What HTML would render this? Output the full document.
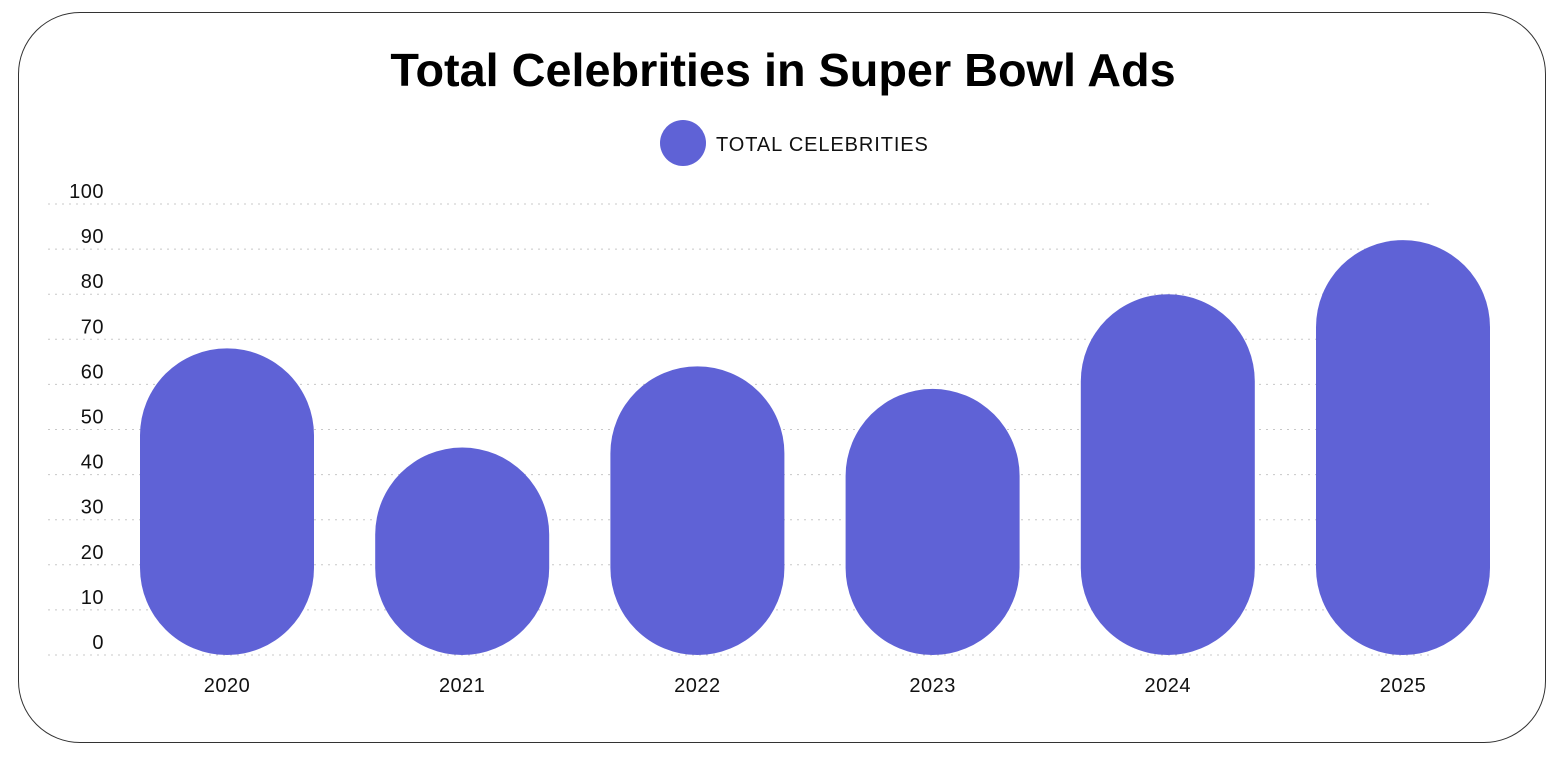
<!DOCTYPE html>
<html><head><meta charset="utf-8">
<style>
html,body{margin:0;padding:0;background:#fff;}
body{width:1560px;height:757px;overflow:hidden;position:relative;font-family:"Liberation Sans",Arial,sans-serif;}
.card{position:absolute;left:18px;top:12px;width:1528px;height:731px;border:1px solid #333;border-radius:62px;box-sizing:border-box;}
</style></head>
<body>
<div class="card"></div>
<svg id="chart" width="1560" height="757" style="position:absolute;left:0;top:0">
<text x="783" y="86" text-anchor="middle" font-family="Liberation Sans, Arial, sans-serif" font-weight="bold" font-size="46.8" fill="#000">Total Celebrities in Super Bowl Ads</text>
<g>
<circle cx="683" cy="143" r="23" fill="#5f62d6"></circle>
<text x="716" y="151" font-size="20" letter-spacing="0.9" fill="#111">TOTAL CELEBRITIES</text>
</g>
<g id="grid"></g>
<g id="bars"></g>
<g id="xlabels"></g>
</svg>
<script>
const categories = ["2020","2021","2022","2023","2024","2025"];
const values = [68, 46, 64, 59, 80, 92];
const yTicks = [0,10,20,30,40,50,60,70,80,90,100];

const NS = "http://www.w3.org/2000/svg";
const y0 = 655, y100 = 204;
function yScale(v){ return y0 - (y0 - y100) * v / 100; }
function xScale(i){ return 227 + i * 235.2; }
const barW = 174;

const grid = document.getElementById('grid');
yTicks.forEach(t => {
  const y = yScale(t);
  const ln = document.createElementNS(NS,'line');
  ln.setAttribute('x1',48); ln.setAttribute('x2',1432);
  ln.setAttribute('y1',y); ln.setAttribute('y2',y);
  ln.setAttribute('stroke','#c8c8c8'); ln.setAttribute('stroke-dasharray','2 5');
  
  
  grid.appendChild(ln);
  const tx = document.createElementNS(NS,'text');
  tx.setAttribute('x',104); tx.setAttribute('y',y - 6);
  tx.setAttribute('text-anchor','end'); tx.setAttribute('font-size','20'); tx.setAttribute('letter-spacing','0.5'); tx.setAttribute('fill','#111');
  tx.textContent = t;
  
  
  grid.appendChild(tx);
});

const bars = document.getElementById('bars');
const xl = document.getElementById('xlabels');
categories.forEach((c,i) => {
  const cx = xScale(i);
  const top = yScale(values[i]);
  const h = y0 - top;
  const r = document.createElementNS(NS,'rect');
  r.setAttribute('x', cx - barW/2); r.setAttribute('y', top);
  r.setAttribute('width', barW); r.setAttribute('height', h);
  r.setAttribute('rx', barW/2); r.setAttribute('ry', Math.min(barW/2, h/2));
  r.setAttribute('fill','#5f62d6');
  
  
  bars.appendChild(r);
  const tx = document.createElementNS(NS,'text');
  tx.setAttribute('x', cx); tx.setAttribute('y', 692);
  tx.setAttribute('text-anchor','middle'); tx.setAttribute('font-size','20'); tx.setAttribute('letter-spacing','0.5'); tx.setAttribute('fill','#111');
  tx.textContent = c;
  
  
  xl.appendChild(tx);
});
</script>
</body></html>
